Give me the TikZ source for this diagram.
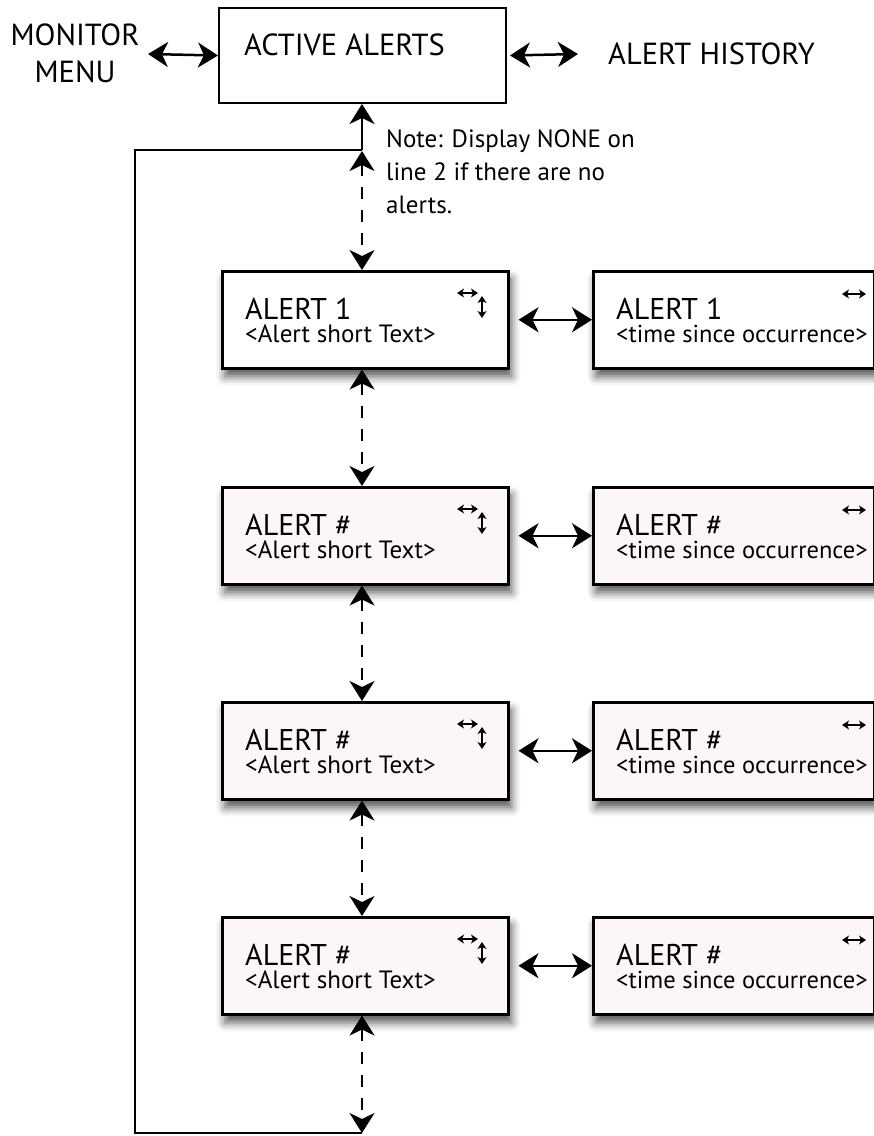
\documentclass[tikz,border=0pt]{standalone}
\usepackage{fontspec}
\setmainfont{PT Sans}
\usetikzlibrary{arrows.meta,shadows.blur}
\definecolor{pinkfill}{RGB}{253,246,248}
\begin{document}
\begin{tikzpicture}[x=1pt,y=-1pt,
  >={Stealth[length=20pt,width=25pt,inset=6pt]},
  conn/.style={line width=2.5pt},
  dconn/.style={line width=2.5pt,dash pattern=on 12pt off 11pt},
  small/.style={line width=2pt,>={Stealth[length=7pt,width=9pt,inset=2pt]}},
  topbox/.style={draw,line width=2pt,fill=white,minimum width=287pt,minimum height=95pt,inner sep=0pt,anchor=north west},
  alertbox/.style={draw,line width=2.5pt,minimum height=97pt,inner sep=0pt,anchor=north west,
     blur shadow={shadow xshift=3pt,shadow yshift=-8pt,shadow blur radius=9pt,shadow opacity=70}},
  boxtext/.style={inner sep=0pt,anchor=north west,align=left},
  med/.style={font=\fontsize{30.5}{36}\selectfont,inner sep=0pt},
  sm/.style={font=\fontsize{24.5}{30}\selectfont,inner sep=0pt},
]
\useasboundingbox (0,0) rectangle (874,1136);

% top row
\node[topbox] (top) at (218,7) {};
\node[med,anchor=base west] (toptext) at (244,55) {ACTIVE ALERTS};
\node[med,align=center,font=\fontsize{30.5}{37}\selectfont] (mon) at (75,53) {MONITOR\\MENU};
\node[med,anchor=base west] (hist) at (608,64) {ALERT HISTORY};
\draw[conn,<->] (148,54) -- (top.west);
\draw[conn,<->] ([xshift=3pt]top.east) -- (578,54);

% junctions
\coordinate (J) at (362,150);
\coordinate (JL) at (135,150);
\coordinate (BL) at (135,1133);
\coordinate (B) at (362,1133);

\node[sm,align=left,anchor=north west,font=\fontsize{25}{33}\selectfont] (note) at (386,129)
  {Note: Display NONE on\\line 2 if there are no\\alerts.};

% rows
\foreach \i/\y/\lab/\fc in {1/270/1/white,2/486/\#/pinkfill,3/701/\#/pinkfill,4/916/\#/pinkfill}{
  \node[alertbox,fill=\fc,minimum width=286pt] (L\i) at (221,\y) {};
  \node[alertbox,fill=\fc,minimum width=281pt] (R\i) at (592,\y) {};
  \node[boxtext,font=\fontsize{25}{23}\selectfont] (L\i t) at (245,\y+28)
    {{\fontsize{30}{23}\selectfont ALERT \lab}\\<Alert short Text>};
  \node[boxtext,font=\fontsize{24.5}{23}\selectfont] (R\i t) at (616,\y+28)
    {{\fontsize{30}{23}\selectfont ALERT \lab}\\<time since occurrence>};
  \draw[small,<->] (457,\y+23) -- (478,\y+23);
  \draw[small,<->] (482,\y+26) -- (482,\y+48);
  \draw[small,<->] (842,\y+24) -- (866,\y+24);
  \draw[conn,<->,shorten <=9pt] (L\i.east) -- (R\i.west);
}

% loop
\draw[conn,line join=miter] (J) -- (JL) -- (BL) -- (B);
\draw[conn,->] (J) -- (top.south -| J);
\draw[dconn,<->] ([yshift=-1pt]J) -- (L1.north -| J);
\draw[dconn,<->] (L1.south -| J) -- (L2.north -| J);
\draw[dconn,<->] (L2.south -| J) -- (L3.north -| J);
\draw[dconn,<->] (L3.south -| J) -- (L4.north -| J);
\draw[dconn,<->] (L4.south -| J) -- (B);
\end{tikzpicture}
\end{document}
